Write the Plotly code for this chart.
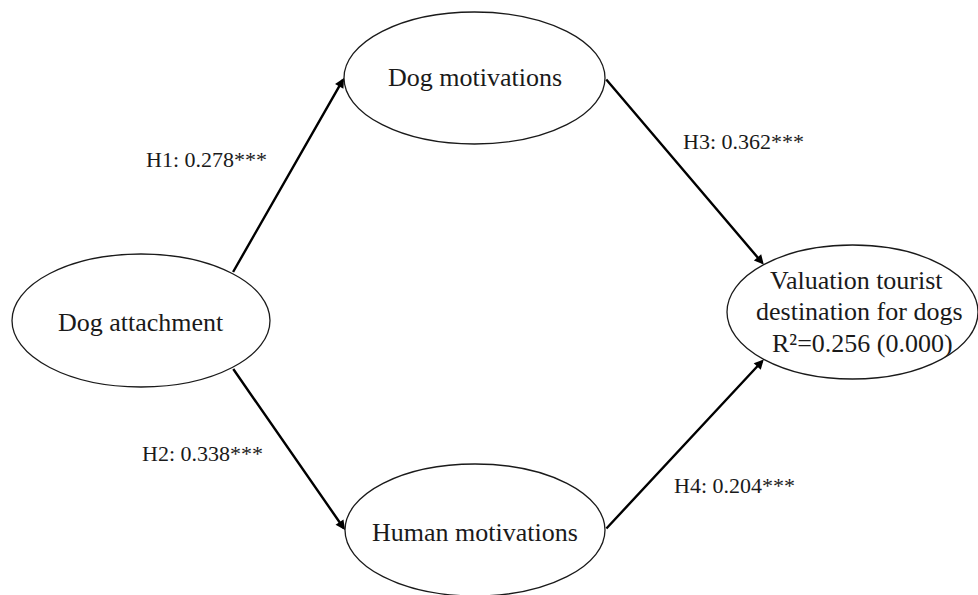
import math
import plotly.graph_objects as go

# ---- data ----
node_ids = ["attach", "dogmot", "hummot", "valuation"]
node_labels = ["Dog attachment", "Dog motivations", "Human motivations",
               "Valuation tourist<br>destination for dogs"]
edge_names = ["H1", "H2", "H3", "H4"]
edge_source = ["attach", "attach", "dogmot", "hummot"]
edge_target = ["dogmot", "hummot", "valuation", "valuation"]
edge_coef = [0.278, 0.338, 0.362, 0.204]
edge_sig = ["***", "***", "***", "***"]
r2_value = 0.256
r2_p = 0.000

# ---- layout (pixel positions / sizes) ----
W, H = 978, 595
node_pos = {  # cx, cy, rx, ry
    "attach": (141, 320.5, 129, 66.5),
    "dogmot": (474.5, 78, 130.5, 66),
    "hummot": (475, 530, 130, 66),
    "valuation": (852.5, 312, 125.5, 67),
}
node_text_y = {"attach": 322, "dogmot": 77, "hummot": 532}
# angle (deg) on source / target ellipse where the arrow starts / ends
edge_angles = {"H1": (45, 180), "H2": (-45, 180), "H3": (0, 135), "H4": (0, 225)}
edge_label_pos = {"H1": (206, 159), "H2": (202, 453), "H3": (743, 141), "H4": (734, 485)}

FONT = "Liberation Serif, Times New Roman, serif"
INK = "#1a1a1a"

fig = go.Figure()
shapes = []
annotations = []


def pt(nid, ang):
    cx, cy, rx, ry = node_pos[nid]
    a = math.radians(ang)
    return cx + rx * math.cos(a), cy - ry * math.sin(a)


for nid in node_ids:
    cx, cy, rx, ry = node_pos[nid]
    shapes.append(dict(type="circle", xref="x", yref="y",
                       x0=cx - rx, x1=cx + rx, y0=cy - ry, y1=cy + ry,
                       line=dict(color=INK, width=1.3), fillcolor="rgba(0,0,0,0)",
                       layer="above"))

for nid, lab in zip(node_ids, node_labels):
    cx, cy, rx, ry = node_pos[nid]
    if nid == "valuation":
        lines = lab.split("<br>")
        lines.append(f"R\u00b2={r2_value:.3f} ({r2_p:.3f})")
        ys = [280, 311, 343]
        xs = [856, 859, 862]
        for t, yy, xx in zip(lines, ys, xs):
            annotations.append(dict(x=xx, y=yy, xref="x", yref="y", text=t,
                                    showarrow=False, xanchor="center", yanchor="middle",
                                    font=dict(family=FONT, size=26, color=INK)))
    else:
        annotations.append(dict(x=cx, y=node_text_y[nid], xref="x", yref="y", text=lab,
                                showarrow=False, xanchor="center", yanchor="middle",
                                font=dict(family=FONT, size=26, color=INK)))

for name, s, t, c, sig in zip(edge_names, edge_source, edge_target, edge_coef, edge_sig):
    a0, a1 = edge_angles[name]
    x0, y0 = pt(s, a0)
    x1, y1 = pt(t, a1)
    annotations.append(dict(x=x1, y=y1, ax=x0, ay=y0, xref="x", yref="y",
                            axref="x", ayref="y", text="", showarrow=True,
                            arrowhead=2, arrowsize=0.8, arrowwidth=2.4,
                            arrowcolor="#000000", standoff=0, startstandoff=0))
    lx, ly = edge_label_pos[name]
    annotations.append(dict(x=lx, y=ly, xref="x", yref="y",
                            text=f"{name}: {c:.3f}{sig}", showarrow=False,
                            xanchor="center", yanchor="middle",
                            font=dict(family=FONT, size=22, color=INK)))

# invisible trace so axes exist
fig.add_trace(go.Scatter(x=[0, W], y=[0, H], mode="markers",
                         marker=dict(opacity=0), hoverinfo="skip", showlegend=False))

fig.update_layout(
    width=W, height=H,
    margin=dict(l=0, r=0, t=0, b=0),
    paper_bgcolor="white", plot_bgcolor="white",
    xaxis=dict(range=[0, W], visible=False, fixedrange=True),
    yaxis=dict(range=[H, 0], visible=False, fixedrange=True),
    shapes=shapes, annotations=annotations, showlegend=False,
)

fig.write_html("out.html", config={"displayModeBar": False},
               post_script="document.body.style.margin='0px';document.body.style.overflow='hidden';")
